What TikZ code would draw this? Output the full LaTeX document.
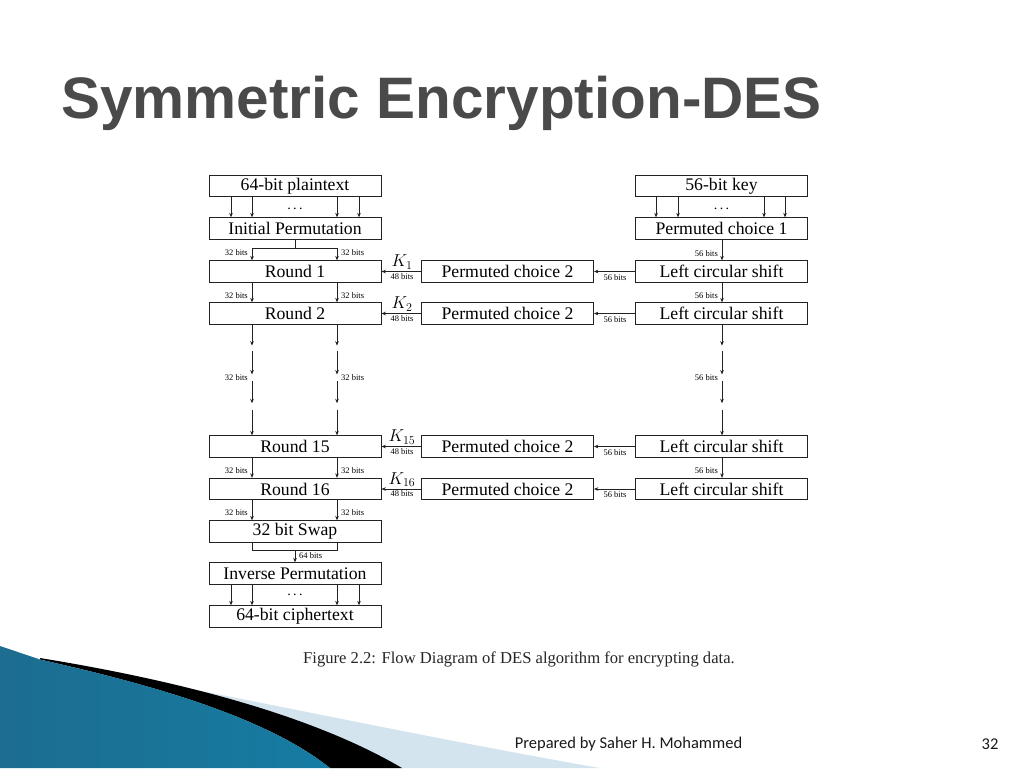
\documentclass[tikz,border=0pt]{standalone}
\usepackage{fontspec}
\setmainfont{Liberation Serif}
\newfontfamily\titlefont{Liberation Sans}
\newfontfamily\footfont{Carlito}
\usetikzlibrary{arrows.meta,calc}
\definecolor{titlegray}{HTML}{4A4A4A}
\definecolor{linegray}{HTML}{222222}
\definecolor{paleblue}{HTML}{D3E4EE}
\definecolor{bluedark}{HTML}{1C6D8F}
\definecolor{bluelight}{HTML}{48AFD5}
\definecolor{bluemid}{HTML}{167CA3}
\begin{document}
\begin{tikzpicture}[x=1pt,y=-1pt,
  stepbox/.style={draw=linegray, line width=0.8pt, minimum width=172pt, minimum height=21.5pt, inner sep=0pt, font=\fontsize{17.7}{18}\selectfont},
  arr/.style={draw=linegray, line width=0.7pt, -{Stealth[length=4.5pt,width=3.6pt]}},
  ln/.style={draw=linegray, line width=0.7pt},
  bits/.style={font=\fontsize{8.5}{9}\selectfont, inner sep=1pt},
  klab/.style={font=\fontsize{18}{20}\selectfont, inner sep=0pt},
  dots/.style={font=\fontsize{14}{14}\selectfont, inner sep=0pt}]
\useasboundingbox (0,0) rectangle (1024,768);
\fill[white] (0,0) rectangle (1024,768);

% decoration bottom left
\fill[paleblue] (80,667) .. controls (250,700) and (450,742) .. (600,768) -- (400,768) -- cycle;
\fill[black] (40,658) .. controls (150,676) and (300,708) .. (402,768) -- (330,768) .. controls (260,712) and (130,680) .. (40,659.5) -- cycle;
\shade[left color=bluedark, middle color=bluelight, right color=bluemid] (0,646) -- (40,659.5) .. controls (130,680) and (260,712) .. (330,768) -- (0,768) -- cycle;

% title
\node[anchor=base west, inner sep=0pt, text=titlegray, font=\titlefont\bfseries\fontsize{58.5}{60}\selectfont] (title) at (61,118) {Symmetric Encryption-DES};

% columns
\coordinate (xa) at (231,0);
\coordinate (xl) at (252,0);
\coordinate (xm) at (295,0);
\coordinate (xr) at (337,0);
\coordinate (xb) at (359,0);
\coordinate (ka) at (656,0);
\coordinate (kb) at (678,0);
\coordinate (kk) at (722,0);
\coordinate (kc) at (764,0);
\coordinate (kd) at (785,0);

% left column
\node[stepbox] (pt) at (295,186) {64-bit plaintext};
\node[stepbox] (ip) at (295,228.5) {Initial Permutation};
\node[stepbox] (r1) at (295,271.5) {Round 1};
\node[stepbox] (r2) at (295,313.5) {Round 2};
\node[stepbox] (r15) at (295,446.5) {Round 15};
\node[stepbox] (r16) at (295,489) {Round 16};
\node[stepbox] (sw) at (295,531.5) {32 bit Swap};
\node[stepbox] (inv) at (295,573.5) {Inverse Permutation};
\node[stepbox] (ct) at (295,616.5) {64-bit ciphertext};

% right column
\node[stepbox] (key) at (721.5,186) {56-bit key};
\node[stepbox] (pc1) at (721.5,228.5) {Permuted choice 1};
\node[stepbox] (ls1) at (721.5,271.5) {Left circular shift};
\node[stepbox] (ls2) at (721.5,313.5) {Left circular shift};
\node[stepbox] (ls15) at (721.5,446.5) {Left circular shift};
\node[stepbox] (ls16) at (721.5,489) {Left circular shift};

% middle column
\node[stepbox] (pa) at (507.5,271.5) {Permuted choice 2};
\node[stepbox] (pb) at (507.5,313.5) {Permuted choice 2};
\node[stepbox] (pc) at (507.5,446.5) {Permuted choice 2};
\node[stepbox] (pd) at (507.5,489) {Permuted choice 2};

% plaintext -> IP
\foreach \c in {xa,xl,xr,xb} \draw[arr] (pt.south -| \c) -- (ip.north -| \c);
\node[dots] (d1) at (295,208.5) {.\,.\,.};
\foreach \c in {ka,kb,kc,kd} \draw[arr] (key.south -| \c) -- (pc1.north -| \c);
\node[dots] (d2) at (721.5,208.5) {.\,.\,.};

% IP -> round 1
\coordinate (ipj) at (295,248);
\draw[ln] (ip.south) -- (ipj);
\draw[ln] (ipj -| xl) -- (ipj -| xr);
\draw[arr] (ipj -| xl) -- (r1.north -| xl);
\draw[arr] (ipj -| xr) -- (r1.north -| xr);
\node[bits, anchor=east] (b1l) at (249,253) {32 bits};
\node[bits, anchor=west] (b1r) at (340,253) {32 bits};

% round1 -> round2
\draw[arr] (r1.south -| xl) -- (r2.north -| xl);
\draw[arr] (r1.south -| xr) -- (r2.north -| xr);
\node[bits, anchor=east] (b2l) at (249,296) {32 bits};
\node[bits, anchor=west] (b2r) at (340,296) {32 bits};

% round2 -> round15 broken
\foreach \c in {xl,xr} {
  \draw[arr] ($(r2.south -| \c)!0!(r15.north -| \c)$) -- ($(r2.south -| \c)!0.19!(r15.north -| \c)$);
  \draw[arr] ($(r2.south -| \c)!0.24!(r15.north -| \c)$) -- ($(r2.south -| \c)!0.45!(r15.north -| \c)$);
  \draw[arr] ($(r2.south -| \c)!0.51!(r15.north -| \c)$) -- ($(r2.south -| \c)!0.71!(r15.north -| \c)$);
  \draw[arr] ($(r2.south -| \c)!0.77!(r15.north -| \c)$) -- ($(r2.south -| \c)!1!(r15.north -| \c)$);
}
\node[bits, anchor=east] (b3l) at (249,378) {32 bits};
\node[bits, anchor=west] (b3r) at (340,378) {32 bits};

% round15 -> round16
\draw[arr] (r15.south -| xl) -- (r16.north -| xl);
\draw[arr] (r15.south -| xr) -- (r16.north -| xr);
\node[bits, anchor=east] (b4l) at (249,471) {32 bits};
\node[bits, anchor=west] (b4r) at (340,471) {32 bits};

% round16 -> swap
\draw[arr] (r16.south -| xl) -- (sw.north -| xl);
\draw[arr] (r16.south -| xr) -- (sw.north -| xr);
\node[bits, anchor=east] (b5l) at (249,513) {32 bits};
\node[bits, anchor=west] (b5r) at (340,513) {32 bits};

% swap -> inverse
\coordinate (swj) at (295,550);
\draw[ln] (sw.south -| xl) -- (swj -| xl) -- (swj -| xr) -- (sw.south -| xr);
\draw[arr] (swj) -- (inv.north);
\node[bits, anchor=west] (b6) at (298,556) {64 bits};

% inverse -> ciphertext
\foreach \c in {xa,xl,xr,xb} \draw[arr] (inv.south -| \c) -- (ct.north -| \c);
\node[dots] (d3) at (295,595) {.\,.\,.};

% key schedule vertical
\draw[arr] (pc1.south -| kk) -- (ls1.north -| kk);
\node[bits, anchor=east] (k1v) at (719,254) {56 bits};
\draw[arr] (ls1.south -| kk) -- (ls2.north -| kk);
\node[bits, anchor=east] (k2v) at (719,296) {56 bits};
\draw[arr] ($(ls2.south -| kk)!0!(ls15.north -| kk)$) -- ($(ls2.south -| kk)!0.19!(ls15.north -| kk)$);
\draw[arr] ($(ls2.south -| kk)!0.24!(ls15.north -| kk)$) -- ($(ls2.south -| kk)!0.45!(ls15.north -| kk)$);
\draw[arr] ($(ls2.south -| kk)!0.51!(ls15.north -| kk)$) -- ($(ls2.south -| kk)!0.71!(ls15.north -| kk)$);
\draw[arr] ($(ls2.south -| kk)!0.77!(ls15.north -| kk)$) -- ($(ls2.south -| kk)!1!(ls15.north -| kk)$);
\node[bits, anchor=east] (k3v) at (719,378) {56 bits};
\draw[arr] (ls15.south -| kk) -- (ls16.north -| kk);
\node[bits, anchor=east] (k4v) at (719,471) {56 bits};

% horizontal: shift -> PC2 -> round
\foreach \s/\p/\r/\k/\y in {ls1/pa/r1/1/271.5, ls2/pb/r2/2/313.5, ls15/pc/r15/15/446.5, ls16/pd/r16/16/489} {
  \draw[arr] (\s.west) -- (\p.east);
  \draw[arr] (\p.west) -- (\r.east);
  \node[bits] at (615,\y+6) {56 bits};
  \node[bits] at (402,\y+5) {48 bits};
  \node[klab, anchor=south] at (402,\y-2) {$K_{\k}$};
}

% caption
\node[text=black!85, font=\fontsize{16.6}{18}\selectfont, inner sep=0pt] (cap) at (519,659) {Figure 2.2: Flow Diagram of DES algorithm for encrypting data.};

% footer
\node[font=\footfont\fontsize{16.5}{18}\selectfont, text=black!90, inner sep=0pt] (foot) at (628.5,744) {Prepared by Saher H. Mohammed};
\node[font=\footfont\fontsize{16.5}{18}\selectfont, text=black!90, inner sep=0pt] (pg) at (990,744) {32};
\end{tikzpicture}
\end{document}
